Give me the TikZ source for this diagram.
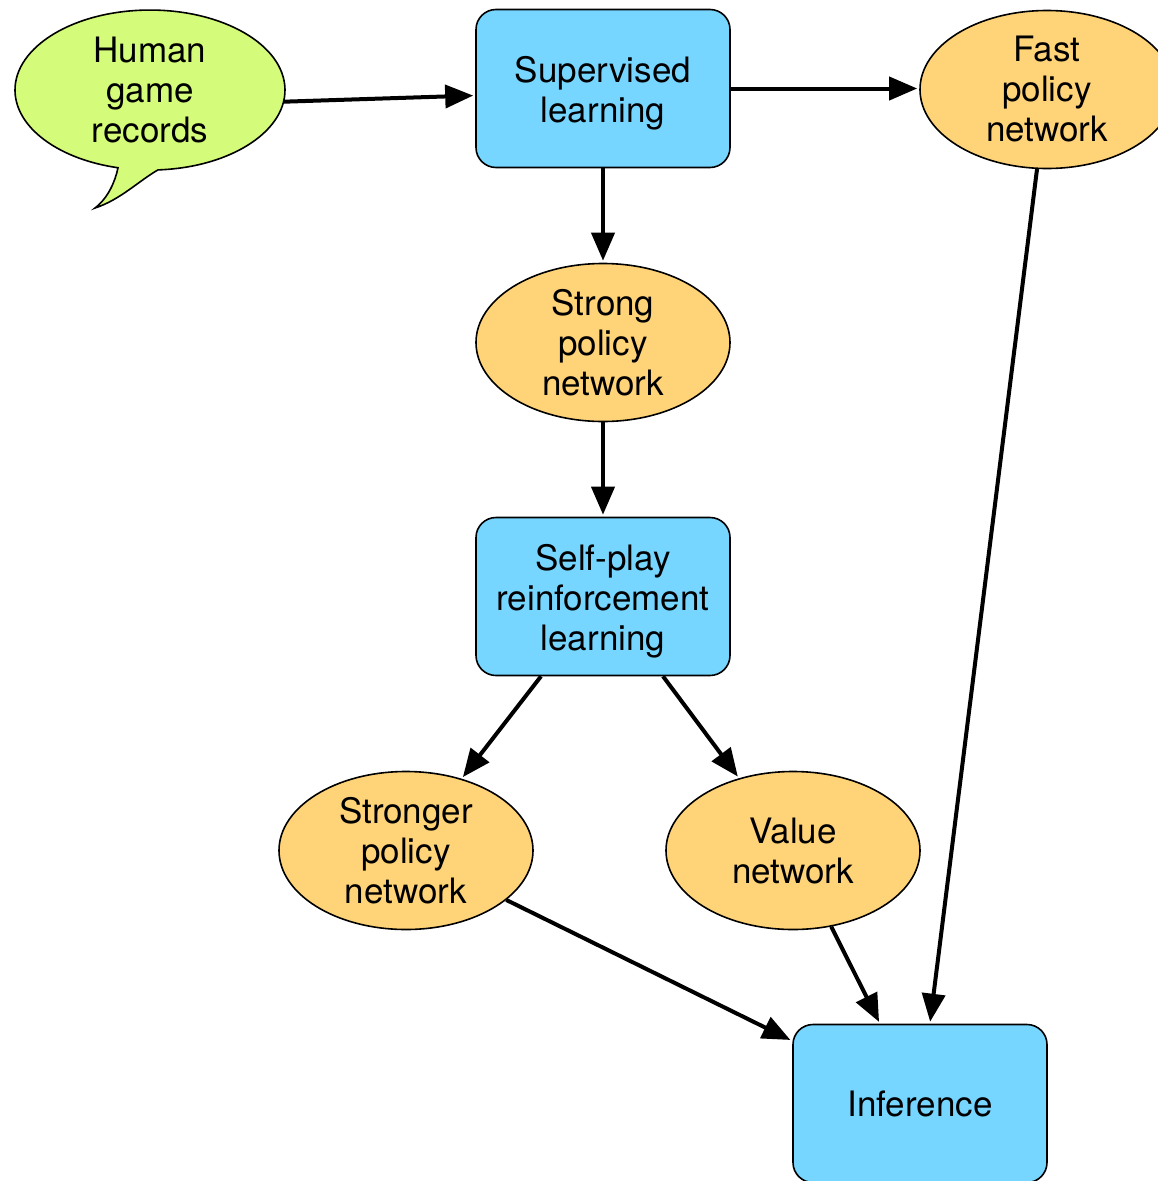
\documentclass[tikz,border=0pt]{standalone}
\usepackage{fontspec}
\setmainfont{TeX Gyre Heros}
\usetikzlibrary{shapes.geometric,arrows.meta}
\definecolor{sky}{HTML}{76D6FF}
\definecolor{cantaloupe}{HTML}{FFD479}
\definecolor{honeydew}{HTML}{D4FB79}
% tall strut that lowers the text block inside a box
\newcommand{\topstrut}{\rule{0pt}{35pt}}
\begin{document}
\begin{tikzpicture}[x=1pt,y=-1pt,
  every node/.style={font=\fontsize{35}{40}\selectfont, align=center, inner sep=0pt},
  stage/.style={draw, line width=1.6pt, fill=sky, rounded corners=20pt,
    minimum width=254pt, minimum height=158pt},
  net/.style={draw, line width=1.6pt, fill=cantaloupe, ellipse,
    minimum width=254pt, minimum height=158pt},
  source/.style={ellipse, minimum width=270pt, minimum height=160pt},
  flow/.style={line width=4pt, shorten >=2pt, -{Triangle[length=28pt,width=23pt]}}]
\path[use as bounding box, clip] (0,0) rectangle (1158,1181);

% speech bubble outline: ellipse body with a tail at the lower left
\draw[line width=1.6pt, fill=honeydew]
  (158,169.9) arc[start angle=-86.6, end angle=256.3, x radius=135pt, y radius=80pt]
  .. controls (115,182) and (108,198) .. (95,208)
  .. controls (120,200) and (140,180) .. (158,169.9) -- cycle;
\node[source] (human) at (150,90) {Human\\game\\records};

% stages and networks
\node[stage] (sup) at (603,88.5) {\topstrut Supervised\\learning};
\node[net] (fast) at (1047,89.5) {Fast\\policy\\network};
\node[net] (strong) at (603,342.5) {Strong\\policy\\network};
\node[stage] (self) at (603,596.5) {\topstrut Self-play\\reinforcement\\learning};
\node[net] (stronger) at (406,850.5) {Stronger\\policy\\network};
\node[net] (value) at (793,850.5) {Value\\network};
\node[stage] (inf) at (920,1103.5) {Inference};

% data flow
\draw[flow] (human.-5) -- ([yshift=-7pt]sup.west);
\draw[flow] (sup.east) -- (sup.east -| fast.west);
\draw[flow] (sup.south) -- (strong.north);
\draw[flow] (strong.south) -- (self.north);
\draw[flow] ([xshift=-62pt]self.south) -- (stronger);
\draw[flow] ([xshift=60pt]self.south) -- (value);
\draw[flow] (stronger) -- (inf);
\draw[flow] (value) -- (inf);
\draw[flow] (fast) -- (inf);
\end{tikzpicture}
\end{document}
